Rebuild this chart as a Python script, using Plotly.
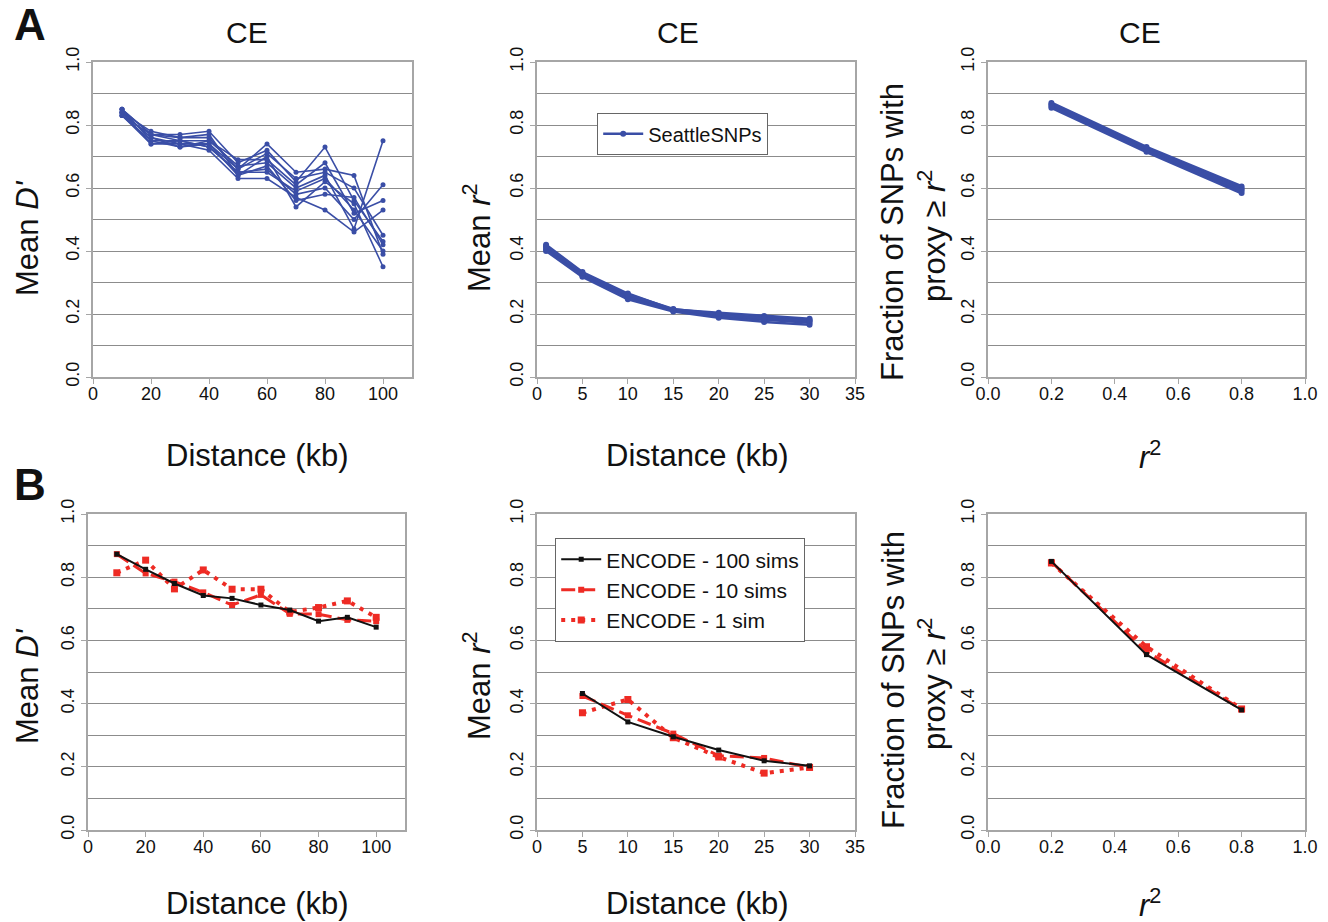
import plotly.graph_objects as go

W, H = 1328, 922

# ---------------- data ----------------
# Panel A (CE, SeattleSNPs)
a1_x = [10, 20, 30, 40, 50, 60, 70, 80, 90, 100]
a1_series = [
    [0.85, 0.77, 0.77, 0.78, 0.68, 0.72, 0.62, 0.73, 0.56, 0.43],
    [0.84, 0.78, 0.76, 0.76, 0.66, 0.74, 0.65, 0.66, 0.64, 0.39],
    [0.83, 0.74, 0.74, 0.74, 0.64, 0.70, 0.54, 0.62, 0.55, 0.35],
    [0.84, 0.76, 0.73, 0.75, 0.67, 0.68, 0.60, 0.64, 0.47, 0.75],
    [0.85, 0.75, 0.75, 0.73, 0.65, 0.66, 0.58, 0.60, 0.50, 0.61],
    [0.83, 0.77, 0.75, 0.75, 0.69, 0.69, 0.61, 0.68, 0.52, 0.56],
    [0.84, 0.76, 0.74, 0.72, 0.63, 0.63, 0.57, 0.53, 0.46, 0.53],
    [0.83, 0.75, 0.73, 0.74, 0.66, 0.71, 0.63, 0.65, 0.60, 0.45],
    [0.85, 0.77, 0.76, 0.77, 0.64, 0.67, 0.56, 0.58, 0.57, 0.42],
    [0.84, 0.74, 0.75, 0.73, 0.65, 0.65, 0.59, 0.63, 0.53, 0.40],
]

a2_x = [1, 5, 10, 15, 20, 25, 30]
a2_series = [
    [0.420, 0.333, 0.265, 0.214, 0.204, 0.194, 0.185],
    [0.410, 0.327, 0.258, 0.212, 0.198, 0.190, 0.180],
    [0.405, 0.322, 0.252, 0.210, 0.192, 0.182, 0.172],
    [0.400, 0.318, 0.247, 0.208, 0.188, 0.175, 0.166],
    [0.415, 0.330, 0.262, 0.216, 0.200, 0.186, 0.178],
]

a3_x = [0.2, 0.5, 0.8]
a3_series = [
    [0.870, 0.730, 0.605],
    [0.865, 0.725, 0.598],
    [0.860, 0.720, 0.592],
    [0.855, 0.715, 0.584],
]

# Panel B (ENCODE simulations)
b1_x = [10, 20, 30, 40, 50, 60, 70, 80, 90, 100]
b1_100 = [0.873, 0.825, 0.780, 0.742, 0.733, 0.712, 0.696, 0.661, 0.673, 0.642]
b1_10 = [0.873, 0.812, 0.786, 0.752, 0.712, 0.744, 0.684, 0.683, 0.665, 0.661]
b1_1 = [0.814, 0.854, 0.763, 0.823, 0.762, 0.762, 0.690, 0.704, 0.725, 0.673]

b2_x = [5, 10, 15, 20, 25, 30]
b2_100 = [0.432, 0.342, 0.295, 0.253, 0.219, 0.203]
b2_10 = [0.424, 0.363, 0.305, 0.235, 0.228, 0.198]
b2_1 = [0.371, 0.413, 0.292, 0.231, 0.180, 0.198]

b3_x = [0.2, 0.5, 0.8]
b3_100 = [0.850, 0.555, 0.380]
b3_10 = [0.848, 0.565, 0.382]
b3_1 = [0.845, 0.580, 0.383]

series_names = ["SeattleSNPs", "ENCODE - 100 sims", "ENCODE - 10 sims", "ENCODE - 1 sim"]
panel_titles = ["CE", "CE", "CE"]

# ---------------- styling ----------------
BLUE = "#3a4ea6"
RED = "#ee2b24"
BLACK = "#111111"
GRID = "#8c8c8c"
FRAME = "#a6a6a6"
FONT = "Liberation Sans, Arial, sans-serif"

fig = go.Figure()

# panel pixel boxes: (x0, x1, ytop, ybottom, xmax, xdtick, xfmt)
panels = {
    1: (93, 412, 62, 377, 110, 20, "d"),
    2: (537, 855, 62, 377, 35, 5, "d"),
    3: (988, 1305, 62, 377, 1.0, 0.2, ".1f"),
    4: (88, 405, 514, 830, 110, 20, "d"),
    5: (537, 855, 514, 830, 35, 5, "d"),
    6: (988, 1305, 514, 830, 1.0, 0.2, ".1f"),
}

for k, (x0, x1, yt, yb, xmax, xd, xf) in panels.items():
    sfx = "" if k == 1 else str(k)
    fig.layout["xaxis" + sfx] = dict(
        domain=[x0 / W, x1 / W], anchor="y" + sfx, range=[0, xmax], dtick=xd, tick0=0,
        tickformat=xf, showgrid=False, zeroline=False, showline=True, linecolor=FRAME,
        linewidth=1.5, mirror=True, ticks="outside", ticklen=5, tickcolor=FRAME,
        ticklabelstandoff=-5,
        tickfont=dict(family=FONT, size=18, color="#111"), fixedrange=True, automargin=False,
    )
    fig.layout["yaxis" + sfx] = dict(
        domain=[1 - yb / H, 1 - yt / H], anchor="x" + sfx, range=[0, 1], dtick=0.2, tick0=0,
        tickformat=".1f", tickangle=-90, showgrid=True, gridcolor=GRID, gridwidth=1.3,
        zeroline=False, showline=True, linecolor=FRAME, linewidth=1.5, mirror=True,
        ticks="outside", ticklen=5, tickcolor=FRAME,
        minor=dict(dtick=0.1, showgrid=True, gridcolor=GRID, gridwidth=1.3, ticks=""),
        tickfont=dict(family=FONT, size=18, color="#111"), fixedrange=True, automargin=False,
    )

def ax(k):
    return ("x" if k == 1 else "x%d" % k), ("y" if k == 1 else "y%d" % k)

# Panel A1
xa, ya = ax(1)
for s in a1_series:
    fig.add_trace(go.Scatter(x=a1_x, y=s, mode="lines+markers", xaxis=xa, yaxis=ya,
                             line=dict(color=BLUE, width=1.6), marker=dict(size=5, color=BLUE),
                             showlegend=False))
# Panel A2
xa, ya = ax(2)
for i, s in enumerate(a2_series):
    fig.add_trace(go.Scatter(x=a2_x, y=s, mode="lines+markers", xaxis=xa, yaxis=ya,
                             name=series_names[0], legend="legend",
                             line=dict(color=BLUE, width=2.5), marker=dict(size=6, color=BLUE),
                             showlegend=(i == 0)))
# Panel A3
xa, ya = ax(3)
for s in a3_series:
    fig.add_trace(go.Scatter(x=a3_x, y=s, mode="lines+markers", xaxis=xa, yaxis=ya,
                             line=dict(color=BLUE, width=3), marker=dict(size=6, color=BLUE),
                             showlegend=False))

# Panel B
def add_b(k, xs, y100, y10, y1, legend):
    xa, ya = ax(k)
    fig.add_trace(go.Scatter(x=xs, y=y1, mode="lines+markers", xaxis=xa, yaxis=ya,
                             name=series_names[3], legend="legend2", legendrank=3,
                             line=dict(color=RED, width=4, dash="4px,6px"),
                             marker=dict(size=7, symbol="square", color=RED),
                             showlegend=legend))
    fig.add_trace(go.Scatter(x=xs, y=y10, mode="lines+markers", xaxis=xa, yaxis=ya,
                             name=series_names[2], legend="legend2", legendrank=2,
                             line=dict(color=RED, width=3, dash="14px,6px"),
                             marker=dict(size=6, symbol="square", color=RED),
                             showlegend=legend))
    fig.add_trace(go.Scatter(x=xs, y=y100, mode="lines+markers", xaxis=xa, yaxis=ya,
                             name=series_names[1], legend="legend2", legendrank=1,
                             line=dict(color=BLACK, width=2),
                             marker=dict(size=5, symbol="square", color=BLACK),
                             showlegend=legend))

add_b(4, b1_x, b1_100, b1_10, b1_1, False)
add_b(5, b2_x, b2_100, b2_10, b2_1, True)
add_b(6, b3_x, b3_100, b3_10, b3_1, False)

# ---------------- annotations ----------------
ann = []
def text(x, y, t, size=31, angle=0, bold=False):
    ann.append(dict(x=x / W, y=1 - y / H, xref="paper", yref="paper", text=("<b>%s</b>" % t) if bold else t,
                    showarrow=False, textangle=angle, xanchor="center", yanchor="middle",
                    font=dict(family=FONT, size=size, color="#111")))

text(30, 25, "A", size=44, bold=True)
text(30, 484, "B", size=44, bold=True)
for cx, t in zip([247, 678, 1140], panel_titles):
    text(cx, 32, t, size=30)

for dy in (0, 448):
    text(27, 238 + dy, "Mean <i>D'</i>", angle=-90)
    text(477, 238 + dy, "Mean <i>r</i><sup>2</sup>", angle=-90)
    text(893, 232 + dy, "Fraction of SNPs with", angle=-90)
    text(932, 236 + dy, "proxy ≥ <i>r</i><sup>2</sup>", angle=-90)
    text(257, 455 + dy, "Distance (kb)")
    text(697, 455 + dy, "Distance (kb)")
    text(1150, 455 + dy, "<i>r</i><sup>2</sup>")

fig.update_layout(
    width=W, height=H, margin=dict(l=0, r=0, t=0, b=0, autoexpand=False),
    paper_bgcolor="white", plot_bgcolor="white",
    annotations=ann,
    legend=dict(x=597 / W, y=1 - 113 / H, xanchor="left", yanchor="top", bgcolor="white",
                bordercolor="#666", borderwidth=1.2, font=dict(family=FONT, size=20, color="#111"),
                itemwidth=40),
    legend2=dict(x=555 / W, y=1 - 538 / H, xanchor="left", yanchor="top", bgcolor="white",
                 bordercolor="#666", borderwidth=1.2, font=dict(family=FONT, size=21, color="#111"),
                 itemwidth=40, traceorder="normal"),
)

fig.write_html("out.html", post_script="document.body.style.margin='0';")
